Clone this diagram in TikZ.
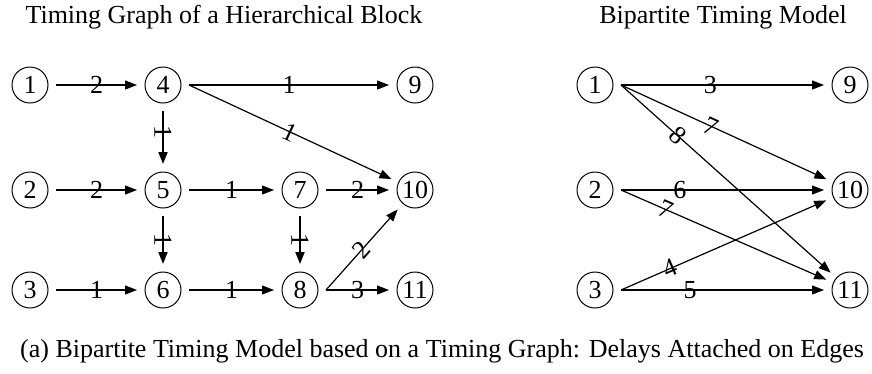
\documentclass[tikz,border=0pt]{standalone}
\usepackage{fontspec}
\setmainfont{Liberation Serif}
\usetikzlibrary{arrows.meta}
\begin{document}
\begin{tikzpicture}[x=1pt,y=-1pt,
  vtx/.style={circle,draw,line width=1pt,minimum size=36pt,inner sep=0pt,outer sep=8pt,
    font=\fontsize{26}{26}\selectfont},
  edge/.style={line width=1.2pt,-{Triangle[length=12pt,width=9pt]}},
  vedge/.style={edge,line width=1.8pt},
  lbl/.style={sloped,inner sep=0pt,font=\fontsize{26}{26}\selectfont},
  ttl/.style={anchor=base,inner sep=0pt,font=\fontsize{26}{26}\selectfont}]
\useasboundingbox (0,0) rectangle (872,373);

% headings and caption
\node[ttl] (t1) at (224,23) {Timing Graph of a Hierarchical Block};
\node[ttl] (t2) at (723,23) {Bipartite Timing Model};
\node[ttl] (cap) at (442,357) {(a) Bipartite Timing Model based on a Timing Graph: Delays Attached on Edges};

% timing graph of the block
\node[vtx] (n1)  at (30,85)   {1};
\node[vtx] (n4)  at (163,85)  {4};
\node[vtx] (n9)  at (415,85)  {9};
\node[vtx] (n2)  at (30,190)  {2};
\node[vtx] (n5)  at (163,190) {5};
\node[vtx] (n7)  at (300,190) {7};
\node[vtx] (n10) at (415,190) {10};
\node[vtx] (n3)  at (30,290)  {3};
\node[vtx] (n6)  at (163,290) {6};
\node[vtx] (n8)  at (300,290) {8};
\node[vtx] (n11) at (415,290) {11};

\draw[edge] (n1.east) -- node[lbl]{2} (n4.west);
\draw[edge] (n4.east) -- node[lbl]{1} (n9.west);
\draw[edge] (n4.east) -- node[lbl]{1} (n10);
\draw[vedge] (n4.south) -- node[lbl,pos=.4]{1} (n5.north);
\draw[edge] (n2.east) -- node[lbl]{2} (n5.west);
\draw[edge] (n5.east) -- node[lbl]{1} (n7.west);
\draw[edge] (n7.east) -- node[lbl]{2} (n10.west);
\draw[vedge] (n5.south) -- node[lbl]{1} (n6.north);
\draw[vedge] (n7.south) -- node[lbl]{1} (n8.north);
\draw[edge] (n3.east) -- node[lbl]{1} (n6.west);
\draw[edge] (n6.east) -- node[lbl]{1} (n8.west);
\draw[edge] (n8.east) -- node[lbl]{2} (n10);
\draw[edge] (n8.east) -- node[lbl]{3} (n11.west);

% bipartite timing model
\node[vtx] (r1)  at (595,85)  {1};
\node[vtx] (r2)  at (595,190) {2};
\node[vtx] (r3)  at (595,290) {3};
\node[vtx] (r9)  at (850,85)  {9};
\node[vtx] (r10) at (850,190) {10};
\node[vtx] (r11) at (850,290) {11};

\draw[edge] (r1.east) -- node[lbl,pos=.44]{3} (r9.west);
\draw[edge] (r1.east) -- node[lbl,pos=.44]{7} (r10);
\draw[edge] (r1.east) -- node[lbl,pos=.27]{8} (r11);
\draw[edge] (r2.east) -- node[lbl,pos=.29]{6} (r10.west);
\draw[edge] (r2.east) -- node[lbl,pos=.22]{7} (r11);
\draw[edge] (r3.east) -- node[lbl,pos=.24]{4} (r10);
\draw[edge] (r3.east) -- node[lbl,pos=.34]{5} (r11.west);
\end{tikzpicture}
\end{document}
